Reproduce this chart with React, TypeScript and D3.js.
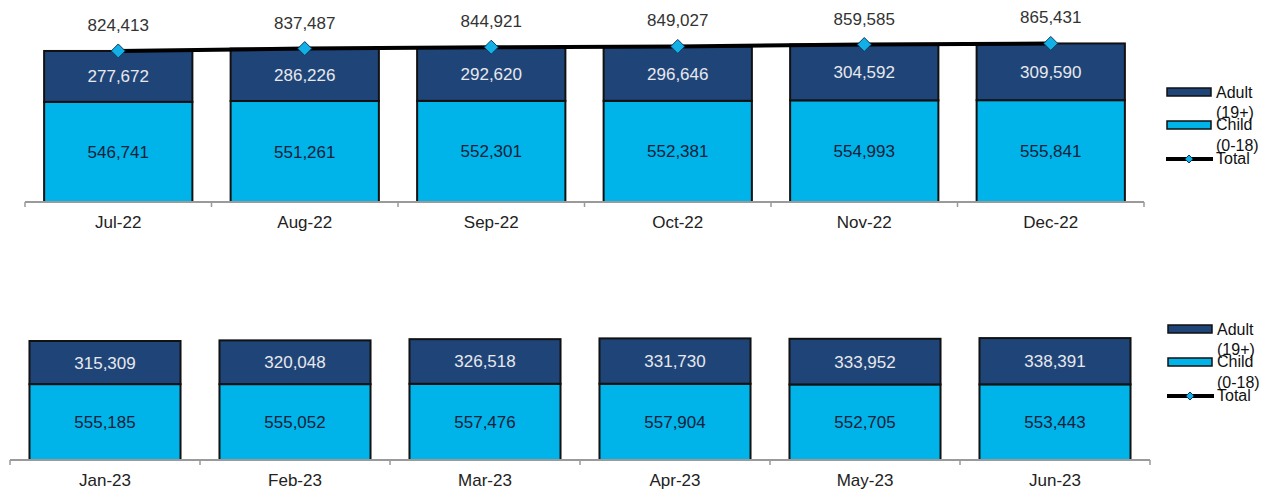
import React from "react";
import * as d3 from "d3";

const monthsTop = ["Jul-22", "Aug-22", "Sep-22", "Oct-22", "Nov-22", "Dec-22"];
const childTop = [546741, 551261, 552301, 552381, 554993, 555841];
const adultTop = [277672, 286226, 292620, 296646, 304592, 309590];
const totalTop = [824413, 837487, 844921, 849027, 859585, 865431];

const monthsBottom = ["Jan-23", "Feb-23", "Mar-23", "Apr-23", "May-23", "Jun-23"];
const childBottom = [555185, 555052, 557476, 557904, 552705, 553443];
const adultBottom = [315309, 320048, 326518, 331730, 333952, 338391];

const ADULT = "#1f4578";
const CHILD = "#00b3e8";
const FONT = "'Liberation Sans', Arial, sans-serif";
const fmt = d3.format(",");

type PanelProps = {
  months: string[];
  child: number[];
  adult: number[];
  total?: number[];
  x0: number;
  x1: number;
  base: number;
  pxPerMillion: number;
};

function Panel({ months, child, adult, total, x0, x1, base, pxPerMillion }: PanelProps) {
  const x = d3.scaleBand<string>().domain(months).range([x0, x1]).paddingInner(0.205).paddingOuter(0.1025);
  const y = d3.scaleLinear().domain([0, 1000000]).range([base, base - pxPerMillion]);
  const step = x.step();
  const bw = x.bandwidth();
  const center = (m: string) => (x(m) as number) + bw / 2;
  const ticks = d3.range(months.length + 1).map((i) => x0 + i * step);
  const line = d3
    .line<number>()
    .x((_, i) => center(months[i]))
    .y((v) => y(v));
  return (
    <g>
      {months.map((m, i) => {
        const bx = x(m) as number;
        const yc = y(child[i]);
        const yt = y(child[i] + adult[i]);
        return (
          <g key={m}>
            <rect x={bx} y={yc} width={bw} height={base - yc} fill={CHILD} stroke="#111" strokeWidth={2} />
            <rect x={bx} y={yt} width={bw} height={yc - yt} fill={ADULT} stroke="#111" strokeWidth={2} />
            <text x={center(m)} y={(yt + yc) / 2 + 6} textAnchor="middle" fontSize={17} fill="#e8e8ee" fontFamily={FONT}>
              {fmt(adult[i])}
            </text>
            <text x={center(m)} y={(yc + base) / 2 + 6} textAnchor="middle" fontSize={17} fill="#14213a" fontFamily={FONT}>
              {fmt(child[i])}
            </text>
            <text x={center(m)} y={base + 26} textAnchor="middle" fontSize={17} fill="#222" fontFamily={FONT}>
              {m}
            </text>
          </g>
        );
      })}
      <line x1={x0} x2={x1} y1={base} y2={base} stroke="#9a9a9a" strokeWidth={2} />
      {ticks.map((t, i) => (
        <line key={i} x1={t} x2={t} y1={base} y2={base + 5} stroke="#9a9a9a" strokeWidth={1.5} />
      ))}
      {total && (
        <g>
          <path d={line(total) || ""} fill="none" stroke="#000" strokeWidth={4} />
          {total.map((v, i) => {
            const cx = center(months[i]);
            const cy = y(v);
            return (
              <g key={i}>
                <path d={`M${cx},${cy - 7}L${cx + 7},${cy}L${cx},${cy + 7}L${cx - 7},${cy}Z`} fill="#12b0e6" stroke="#0b3a5a" strokeWidth={1} />
                <text x={cx} y={cy - 20} textAnchor="middle" fontSize={17} fill="#333" fontFamily={FONT}>
                  {fmt(v)}
                </text>
              </g>
            );
          })}
        </g>
      )}
    </g>
  );
}

function Legend({ x, top }: { x: number; top: number }) {
  return (
    <g fontFamily={FONT} fontSize={16} fill="#111">
      <rect x={x} y={top} width={44} height={8} fill={ADULT} stroke="#111" strokeWidth={1.5} />
      <text x={x + 49} y={top + 10}>Adult</text>
      <text x={x + 49} y={top + 30}>(19+)</text>
      <rect x={x} y={top + 33} width={44} height={8} fill={CHILD} stroke="#111" strokeWidth={1.5} />
      <text x={x + 49} y={top + 42}>Child</text>
      <text x={x + 49} y={top + 63}>(0-18)</text>
      <line x1={x - 1} x2={x + 46} y1={top + 71} y2={top + 71} stroke="#000" strokeWidth={4} />
      <path d={`M${x + 22},${top + 67}L${x + 26},${top + 71}L${x + 22},${top + 75}L${x + 18},${top + 71}Z`} fill="#12b0e6" stroke="#0b3a5a" strokeWidth={1} />
      <text x={x + 49} y={top + 76}>Total</text>
    </g>
  );
}

export default function App() {
  return (
    <svg width={1280} height={496} style={{ position: "absolute", left: 0, top: 0, background: "#fff" }}>
      <Panel months={monthsTop} child={childTop} adult={adultTop} total={totalTop} x0={25} x1={1144} base={202} pxPerMillion={183.2} />
      <Legend x={1167} top={88} />
      <Panel months={monthsBottom} child={childBottom} adult={adultBottom} x0={10} x1={1150} base={460} pxPerMillion={136.7} />
      <Legend x={1168} top={325} />
    </svg>
  );
}
